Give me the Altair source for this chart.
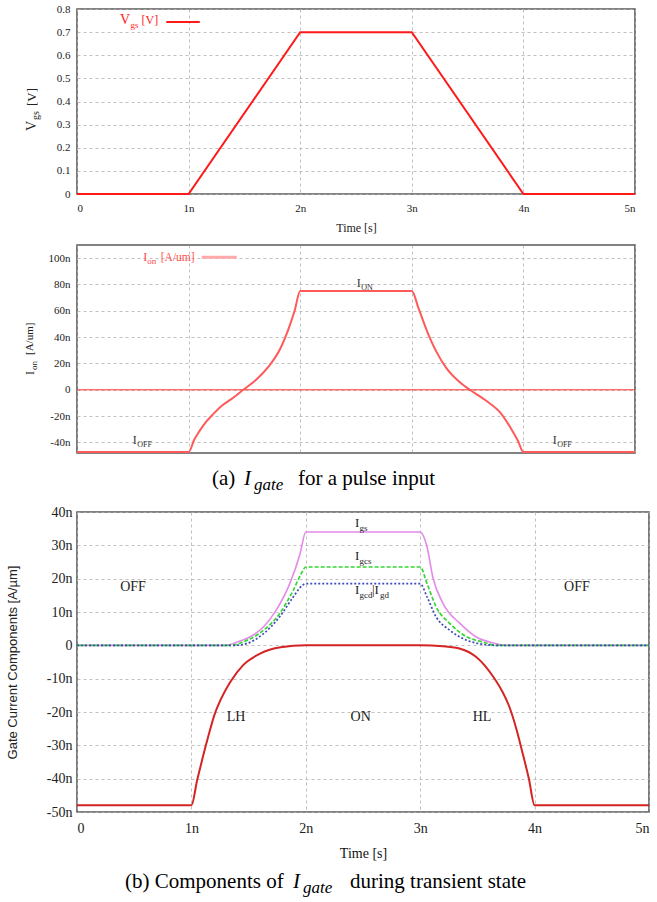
import altair as alt
import pandas as pd

SERIF = "Liberation Serif"
SANS = "Liberation Sans"

# ---------------- (a) top: gate-source voltage ----------------
vgs_t = [0, 1, 2, 3, 4, 5]
vgs_v = [0, 0, 0.7, 0.7, 0, 0]

# ---------------- (a) middle: channel current ----------------
ion_t = [0, 1.0, 1.05, 1.10, 1.16, 1.22, 1.30, 1.40, 1.49, 1.61, 1.71, 1.82, 1.89, 1.95, 2.0,
         3.0, 3.06, 3.13, 3.22, 3.31, 3.42, 3.52, 3.67, 3.80, 3.89, 3.95, 4.0, 5.0]
ion_v = [-47.3, -47.3, -38, -31, -24, -18.5, -12, -6, 0, 8, 17, 31, 45, 60, 75,
         75, 62, 46, 29, 16.5, 6.5, 0, -8.5, -18, -29.5, -38.5, -47.3, -47.3]

# ---------------- (b) gate current components ----------------
igate_t = [0, 1.0, 1.05, 1.10, 1.15, 1.20, 1.26, 1.34, 1.45, 1.60, 1.78, 2.0,
           3.0, 3.2, 3.35, 3.49, 3.64, 3.72, 3.78, 3.84, 3.90, 3.95, 4.0, 5.0]
igate_v = [-48, -48, -40.5, -33.5, -27, -21, -16, -11, -6, -2.5, -0.6, 0,
           0, -0.3, -1, -3.5, -9.5, -14, -18.5, -25, -33, -40, -48, -48]

igs_t = [0, 1.30, 1.40, 1.51, 1.63, 1.74, 1.86, 1.95, 2.0, 3.0, 3.06, 3.11, 3.20, 3.35, 3.49, 3.64, 3.75, 5.0]
igs_v = [0, 0, 1.0, 2.5, 5.5, 10.5, 18.5, 27.5, 34, 34, 29.5, 20.5, 12.5, 6.5, 2.5, 0.7, 0, 0]

igcs_t = [0, 1.35, 1.45, 1.63, 1.77, 1.89, 1.96, 2.0, 3.0, 3.06, 3.14, 3.26, 3.41, 3.55, 3.66, 5.0]
igcs_v = [0, 0, 1, 4.5, 9.5, 16.5, 21.5, 23.5, 23.5, 18.5, 11.5, 6.5, 2.5, 1, 0, 0]

igcd_t = [0, 1.38, 1.48, 1.63, 1.77, 1.89, 1.97, 2.0, 3.0, 3.06, 3.14, 3.26, 3.41, 3.55, 3.66, 5.0]
igcd_v = [0, 0, 0.5, 3.5, 8.5, 14.5, 18, 18.5, 18.5, 14.5, 8.5, 4.5, 1.5, 0.3, 0, 0]

# ---------------- ticks ----------------
X_TICKS = [0, 1, 2, 3, 4, 5]
VGS_TICKS = [0, 0.1, 0.2, 0.3, 0.4, 0.5, 0.6, 0.7, 0.8]
ION_TICKS = [-40, -20, 0, 20, 40, 60, 80, 100]
IG_TICKS = [-50, -40, -30, -20, -10, 0, 10, 20, 30, 40]

N_LABEL = "datum.value == 0 ? '0' : datum.value + 'n'"
V_LABEL = "datum.value == 0 ? '0' : format(datum.value, '.1f')"

W_A, H_TOP, H_MID = 558, 185, 208
W_B, H_B = 572, 300

GRID = dict(grid=True, gridColor="#b0b0b0", gridDash=[3, 3], gridWidth=0.8,
            domain=False, ticks=False, labelFont=SERIF, labelColor="#222")

# shared encodings (identical in every layer of a panel so the axes merge cleanly)
X_TOP = alt.X("t:Q", scale=alt.Scale(domain=[0, 5], nice=False, zero=False),
              axis=alt.Axis(values=X_TICKS, labelExpr=N_LABEL, title="Time [s]", titleFont=SERIF,
                            titleFontSize=12, titleFontWeight="normal", titleColor="#222",
                            titleY=33, titleBaseline="middle", labelFontSize=11, labelPadding=8,
                            **GRID))
Y_TOP = alt.Y("v:Q", scale=alt.Scale(domain=[0, 0.8], nice=False, zero=False),
              axis=alt.Axis(values=VGS_TICKS, labelExpr=V_LABEL, title=None, labelFontSize=11,
                            labelPadding=7, **GRID))
X_MID = alt.X("t:Q", scale=alt.Scale(domain=[0, 5], nice=False, zero=False),
              axis=alt.Axis(values=X_TICKS, labels=False, title=None, **GRID))
Y_MID = alt.Y("v:Q", scale=alt.Scale(domain=[-48, 110], nice=False, zero=False),
              axis=alt.Axis(values=ION_TICKS, labelExpr=N_LABEL, title=None, labelFontSize=11,
                            labelPadding=7, **GRID))
X_BOT = alt.X("t:Q", scale=alt.Scale(domain=[0, 5], nice=False, zero=False),
              axis=alt.Axis(values=X_TICKS, labelExpr=N_LABEL, title="Time [s]", titleFont=SERIF,
                            titleFontSize=14, titleFontWeight="normal", titleColor="#111",
                            titleY=41, titleBaseline="middle", labelFontSize=14,
                            labelPadding=9, **GRID))
Y_BOT = alt.Y("v:Q", scale=alt.Scale(domain=[-50, 40], nice=False, zero=False),
              axis=alt.Axis(values=IG_TICKS, labelExpr=N_LABEL, labelFontSize=14,
                            labelPadding=5, title="Gate Current Components [A/µm]",
                            titleFont=SANS, titleFontSize=13, titleFontWeight="normal",
                            titleColor="#222", titleX=-65, titleY=H_B / 2, titleAngle=270,
                            titleBaseline="middle", **GRID))


def rich(t, v, pieces, color, X, Y, style="normal"):
    df = pd.DataFrame({"t": [t], "v": [v]})
    out = []
    for text, dx, dy, size in pieces:
        out.append(
            alt.Chart(df).mark_text(text=text, dx=dx, dy=dy, fontSize=size, font=SERIF,
                                    fontStyle=style, color=color, align="left",
                                    baseline="alphabetic")
            .encode(x=X, y=Y)
        )
    return out


def free(pieces, color, font=SERIF, angle=0, baseline="alphabetic"):
    df = pd.DataFrame({"k": [0]})
    out = []
    for text, x, y, size, style in pieces:
        kw = dict(text=text, fontSize=size, font=font, fontStyle=style, color=color,
                  align="left", baseline=baseline)
        if angle:
            kw["angle"] = angle
        out.append(alt.Chart(df).mark_text(**kw).encode(x=alt.value(x), y=alt.value(y)))
    return out


def key_line(t, t2, v, color, width, X, Y):
    return alt.Chart(pd.DataFrame({"t": [t], "t2": [t2], "v": [v]})).mark_rule(
        color=color, strokeWidth=width).encode(x=X, x2="t2:Q", y=Y)


# ================= top panel =================
vgs_df = pd.DataFrame({"t": vgs_t, "v": vgs_v})
top_line = alt.Chart(vgs_df).mark_line(color="#ff1a1a", strokeWidth=2).encode(x=X_TOP, y=Y_TOP)
top_key_line = key_line(0.80, 1.10, 0.744, "#ff1a1a", 2, X_TOP, Y_TOP)
top_key = rich(0.385, 0.734, [("V", 0, 0, 14), ("gs", 10.5, 4, 9), ("[V]", 21.5, 0, 12)],
               "#ff1a1a", X_TOP, Y_TOP)
top_ytitle = free([("V", -45, 122, 14, "normal"), ("gs", -41, 111, 10, "normal"),
                   ("[V]", -45, 97, 13, "normal")], "#222", angle=270, baseline="middle")
top = alt.layer(top_line, top_key_line, *top_key, *top_ytitle).properties(width=W_A, height=H_TOP)

# ================= middle panel =================
ion_df = pd.DataFrame({"t": ion_t, "v": ion_v})
mid_line = alt.Chart(ion_df).mark_line(color="#ff5a5a", strokeWidth=2, interpolate="monotone").encode(
    x=X_MID, y=Y_MID)
mid_zero = alt.Chart(pd.DataFrame({"v": [0]})).mark_rule(color="#ff3030", strokeWidth=1).encode(y=Y_MID)
mid_key_line = key_line(1.117, 1.431, 100.6, "#ffaaaa", 3, X_MID, Y_MID)
mid_key = rich(0.594, 97.6, [("I", 0, 0, 12), ("on", 4, 3, 9), ("[A/um]", 17.5, 0, 11.5)],
               "#ff4d4d", X_MID, Y_MID)
lab_off1 = rich(0.50, -41.4, [("I", 0, 0, 12), ("OFF", 4.5, 3, 8)], "#333", X_MID, Y_MID)
lab_on = rich(2.506, 78.3, [("I", 0, 0, 12), ("ON", 4.5, 3, 8)], "#333", X_MID, Y_MID)
lab_off2 = rich(4.262, -41.4, [("I", 0, 0, 12), ("OFF", 4.5, 3, 8)], "#333", X_MID, Y_MID)
mid_ytitle = free([("I", -47, 130, 12, "normal"), ("on", -43.5, 125, 9, "normal"),
                   ("[A/um]", -47, 110, 11, "normal")], "#222", angle=270, baseline="middle")
cap_a = free([("(a)", 135, 240, 21, "normal"), ("I", 167, 240, 21, "italic"),
              ("gate", 177, 245, 17, "italic"), ("for a pulse input", 221, 240, 21, "normal")],
             "#000")
mid = alt.layer(mid_zero, mid_line, mid_key_line, *mid_key, *lab_off1, *lab_on, *lab_off2,
                *mid_ytitle, *cap_a).properties(width=W_A, height=H_MID)


# ================= bottom panel =================
def comp(ts, vs, color, width, dash=None):
    kw = dict(color=color, strokeWidth=width, interpolate="monotone")
    if dash:
        kw["strokeDash"] = dash
    return alt.Chart(pd.DataFrame({"t": ts, "v": vs})).mark_line(**kw).encode(x=X_BOT, y=Y_BOT)


b_igate = comp(igate_t, igate_v, "#d42424", 2)
b_igs = comp(igs_t, igs_v, "#e48ae8", 1.6)
b_igcs = comp(igcs_t, igcs_v, "#33d633", 1.7, [4, 2])
b_igcd = comp(igcd_t, igcd_v, "#3a4ab8", 1.7, [2, 2])

lab_igs = rich(2.43, 35.5, [("I", 0, 0, 13), ("gs", 4.5, 4, 9)], "#222", X_BOT, Y_BOT)
lab_igcs = rich(2.43, 25.5, [("I", 0, 0, 13), ("gcs", 4.5, 4, 9)], "#222", X_BOT, Y_BOT)
lab_igcd = rich(2.43, 15.5, [("I", 0, 0, 13), ("gcd", 4.5, 4, 9), ("|I", 17, 0, 13),
                             ("gd", 25, 4, 9)], "#222", X_BOT, Y_BOT)


def word(t, v, text):
    return alt.Chart(pd.DataFrame({"t": [t], "v": [v]})).mark_text(
        text=text, fontSize=14, font=SERIF, color="#222", align="center", baseline="middle"
    ).encode(x=X_BOT, y=Y_BOT)


regions = [word(0.49, 17.5, "OFF"), word(4.37, 17.5, "OFF"), word(1.39, -21.6, "LH"),
           word(2.48, -21.6, "ON"), word(3.54, -21.6, "HL")]
cap_b = free([("(b) Components of", 48, 376, 21, "normal"), ("I", 216, 376, 21, "italic"),
              ("gate", 226, 381, 17, "italic"), ("during transient state", 273, 376, 21, "normal")],
             "#000")
bot = alt.layer(b_igate, b_igs, b_igcs, b_igcd, *lab_igs, *lab_igcs, *lab_igcd, *regions,
                *cap_b).properties(width=W_B, height=H_B)

chart = alt.vconcat(top, mid, bot, spacing=10).properties(
    padding={"left": 5, "top": 2, "right": 0, "bottom": 0}, background="white"
).configure_view(stroke="#5a5a5a", strokeWidth=1.6)

chart.save("out.html", embed_options={"renderer": "svg", "actions": False})
